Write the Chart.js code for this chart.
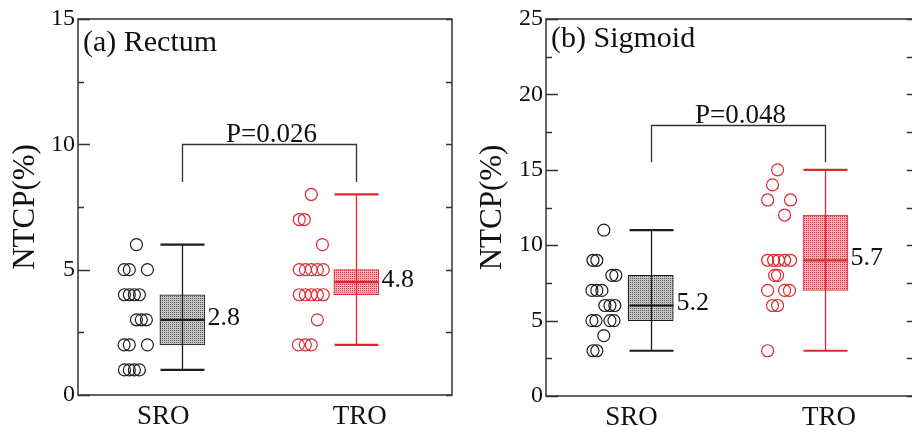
<!DOCTYPE html>
<html><head><meta charset="utf-8">
<script src="https://cdn.jsdelivr.net/npm/chart.js@4.4.1/dist/chart.umd.min.js"></script>
<style>
html,body{margin:0;padding:0;background:#fff;overflow:hidden;width:912px;height:426px;}
.panel{position:absolute;top:0;height:426px;width:460px;}
#pa{left:0;}
#pb{left:460px;}
</style></head><body>
<div class="panel" id="pa"><canvas id="ca" width="460" height="426"></canvas></div>
<div class="panel" id="pb"><canvas id="cb" width="460" height="426"></canvas></div>
<script>
// ---------- data ----------
const groups = ['SRO', 'TRO'];
const groupPos = [1, 2];

// (a) Rectum
const rectumSRO       = [6, 5, 5, 5, 4, 4, 4, 4, 3, 3, 3, 2, 2, 2, 1, 1, 1, 1];
const rectumSROJitter = [-0.264, -0.335, -0.305, -0.201, -0.333, -0.305, -0.276, -0.247, -0.264, -0.236, -0.207, -0.335, -0.305, -0.201, -0.333, -0.305, -0.276, -0.247];
const rectumTRO       = [8, 7, 7, 6, 5, 5, 5, 5, 5, 4, 4, 4, 4, 4, 3, 2, 2, 2];
const rectumTROJitter = [-0.259, -0.328, -0.299, -0.195, -0.328, -0.293, -0.259, -0.224, -0.190, -0.328, -0.293, -0.259, -0.224, -0.190, -0.224, -0.333, -0.293, -0.259];
const rectumMin    = [1, 2];
const rectumQ1     = [2, 4];
const rectumMedian = [3, 4.5];
const rectumQ3     = [4, 5];
const rectumMax    = [6, 8];
const rectumMeanLabels = ['2.8', '4.8'];
const rectumPText  = 'P=0.026';
const rectumBracket = [10, 8.5];

// (b) Sigmoid
const sigmoidSRO       = [11, 9, 9, 8, 8, 7, 7, 7, 6, 6, 6, 5, 5, 5, 5, 4, 3, 3];
const sigmoidSROJitter = [-0.269, -0.331, -0.309, -0.223, -0.200, -0.337, -0.309, -0.280, -0.263, -0.234, -0.206, -0.337, -0.314, -0.234, -0.211, -0.269, -0.331, -0.309];
const sigmoidTRO       = [15, 14, 13, 13, 12, 9, 9, 9, 9, 9, 8, 8, 7, 7, 7, 6, 6, 3];
const sigmoidTROJitter = [-0.274, -0.303, -0.331, -0.200, -0.234, -0.331, -0.297, -0.269, -0.234, -0.200, -0.291, -0.274, -0.331, -0.234, -0.206, -0.303, -0.274, -0.331];
const sigmoidMin    = [3, 3];
const sigmoidQ1     = [5, 7];
const sigmoidMedian = [6, 9];
const sigmoidQ3     = [8, 12];
const sigmoidMax    = [11, 15];
const sigmoidMeanLabels = ['5.2', '5.7'];
const sigmoidPText  = 'P=0.048';
const sigmoidBracket = [18, 15.5];

const xTickPos = [0.89, 2.02];

// ---------- style ----------
const FONT = '"Liberation Serif", "Times New Roman", serif';
const TEXT = '#111';
const BLACK = '#1c1c1c';
const RED = 'rgb(222,40,48)';

function makePattern(bg, dot) {
  const c = document.createElement('canvas');
  c.width = 2; c.height = 2;
  const g = c.getContext('2d');
  g.fillStyle = bg; g.fillRect(0, 0, 2, 2);
  g.fillStyle = dot; g.fillRect(0, 0, 1, 1);
  return g.createPattern(c, 'repeat');
}
const grayPat = makePattern('#c4c4c4', '#5a5a5a');
const redPat = makePattern('#f3b4b8', '#d8303a');

const boxExtras = {
  id: 'boxExtras',
  afterDatasetsDraw(chart, args, o) {
    const {ctx, chartArea: ca, scales: {x, y}} = chart;
    ctx.save();
    for (let i = 0; i < 2; i++) {
      const cx = Math.round(x.getPixelForValue(groupPos[i])) + 0.5;
      const col = i === 0 ? BLACK : RED;
      ctx.strokeStyle = col;
      ctx.lineWidth = 1.3;
      ctx.beginPath();
      ctx.moveTo(cx, y.getPixelForValue(o.min[i]));
      ctx.lineTo(cx, y.getPixelForValue(o.max[i]));
      ctx.stroke();
      ctx.lineWidth = 2.2;
      const hw = 22;
      [o.min[i], o.max[i], o.med[i]].forEach(v => {
        const py = y.getPixelForValue(v);
        ctx.beginPath(); ctx.moveTo(cx - hw, py); ctx.lineTo(cx + hw, py); ctx.stroke();
      });
      ctx.fillStyle = TEXT;
      ctx.font = '26px ' + FONT;
      ctx.textAlign = 'left';
      ctx.textBaseline = 'middle';
      ctx.fillText(o.means[i], cx + hw + 3, y.getPixelForValue(o.med[i]) - 2);
    }
    // bracket
    const x1 = Math.round(x.getPixelForValue(groupPos[0])) + 0.5;
    const x2 = Math.round(x.getPixelForValue(groupPos[1])) + 0.5;
    const yb = Math.round(y.getPixelForValue(o.bracket[0])) + 0.5;
    const yl = y.getPixelForValue(o.bracket[1]);
    ctx.strokeStyle = '#333';
    ctx.lineWidth = 1.3;
    ctx.beginPath();
    ctx.moveTo(x1, yl); ctx.lineTo(x1, yb); ctx.lineTo(x2, yb); ctx.lineTo(x2, yl);
    ctx.stroke();
    ctx.fillStyle = TEXT;
    ctx.font = '27px ' + FONT;
    ctx.textAlign = 'center';
    ctx.textBaseline = 'alphabetic';
    ctx.fillText(o.pText, (x1 + x2) / 2 + 2, yb - 3);
    // panel title
    ctx.textAlign = 'left';
    ctx.font = '30px ' + FONT;
    ctx.fillText(o.title, ca.left + 5, ca.top + o.titleDy);
    ctx.restore();
  },
  afterDraw(chart) {
    const {ctx, chartArea: ca, scales: {y}} = chart;
    ctx.save();
    ctx.strokeStyle = '#333';
    ctx.lineWidth = 1.5;
    ctx.strokeRect(ca.left, ca.top, ca.right - ca.left, ca.bottom - ca.top);
    ctx.lineWidth = 1.3;
    y.ticks.forEach(t => {
      const py = Math.round(y.getPixelForValue(t.value)) + 0.5;
      const major = t.value % 5 === 0;
      ctx.beginPath();
      ctx.moveTo(ca.left, py); ctx.lineTo(ca.left + (major ? 12 : 6), py);
      ctx.moveTo(ca.right, py); ctx.lineTo(ca.right - 6, py);
      ctx.stroke();
    });
    ctx.restore();
  }
};

function makeChart(id, c) {
  return new Chart(document.getElementById(id), {
    type: 'bar',
    data: {
      datasets: [
        {
          type: 'bar',
          data: groupPos.map((g, i) => ({x: g, y: [c.q1[i], c.q3[i]]})),
          backgroundColor: [grayPat, redPat],
          borderColor: [BLACK, RED],
          borderWidth: 1,
          borderSkipped: false,
          barThickness: 45,
          order: 2
        },
        {
          type: 'scatter',
          data: c.sro.map((v, i) => ({x: groupPos[0] + c.sroJ[i], y: v})),
          borderColor: BLACK,
          backgroundColor: 'rgba(0,0,0,0)',
          pointRadius: 6,
          pointBorderWidth: 1.2,
          order: 1
        },
        {
          type: 'scatter',
          data: c.tro.map((v, i) => ({x: groupPos[1] + c.troJ[i], y: v})),
          borderColor: RED,
          backgroundColor: 'rgba(0,0,0,0)',
          pointRadius: 6,
          pointBorderWidth: 1.2,
          order: 1
        }
      ]
    },
    options: {
      responsive: false,
      animation: false,
      devicePixelRatio: 1,
      layout: {padding: {top: 19, right: c.padRight, left: 0, bottom: 0}},
      plugins: {
        legend: {display: false},
        tooltip: {enabled: false},
        boxExtras: {
          min: c.min, med: c.med, max: c.max, means: c.means,
          bracket: c.bracket, pText: c.pText, title: c.title, titleDy: c.titleDy
        }
      },
      scales: {
        x: {
          type: 'linear', min: 0.4, max: c.xMax, offset: false,
          grid: {display: false}, border: {display: false},
          afterBuildTicks: s => { s.ticks = xTickPos.map(v => ({value: v})); },
          ticks: {
            callback: (v, i) => groups[i],
            font: {family: FONT, size: 27}, color: TEXT, padding: -2,
            maxRotation: 0, minRotation: 0, autoSkip: false
          },
          afterFit: s => { s.height = c.xAxisH; }
        },
        y: {
          min: 0, max: c.yMax,
          grid: {drawOnChartArea: false, drawTicks: false}, border: {display: false},
          ticks: {
            stepSize: 2.5, autoSkip: false,
            callback: v => (v % 5 === 0 ? String(v) : ''),
            font: {family: FONT, size: 24}, color: TEXT, padding: 3
          },
          title: {display: true, text: 'NTCP(%)', font: {family: FONT, size: 31}, color: TEXT,
                  padding: {top: c.yTitlePad, bottom: 0}},
          afterFit: s => { s.width = c.yAxisW; }
        }
      }
    },
    plugins: [boxExtras]
  });
}

makeChart('ca', {
  title: '(a) Rectum', titleDy: 32,
  sro: rectumSRO, sroJ: rectumSROJitter, tro: rectumTRO, troJ: rectumTROJitter,
  min: rectumMin, q1: rectumQ1, med: rectumMedian, q3: rectumQ3, max: rectumMax,
  means: rectumMeanLabels, pText: rectumPText, bracket: rectumBracket,
  yMax: 15, xMax: 2.55, padRight: 8, yAxisW: 78, xAxisH: 31, yTitlePad: 7
});
makeChart('cb', {
  title: '(b) Sigmoid', titleDy: 28,
  sro: sigmoidSRO, sroJ: sigmoidSROJitter, tro: sigmoidTRO, troJ: sigmoidTROJitter,
  min: sigmoidMin, q1: sigmoidQ1, med: sigmoidMedian, q3: sigmoidQ3, max: sigmoidMax,
  means: sigmoidMeanLabels, pText: sigmoidPText, bracket: sigmoidBracket,
  yMax: 25, xMax: 2.5, padRight: 7, yAxisW: 86, xAxisH: 30, yTitlePad: 14
});
</script>
</body></html>
